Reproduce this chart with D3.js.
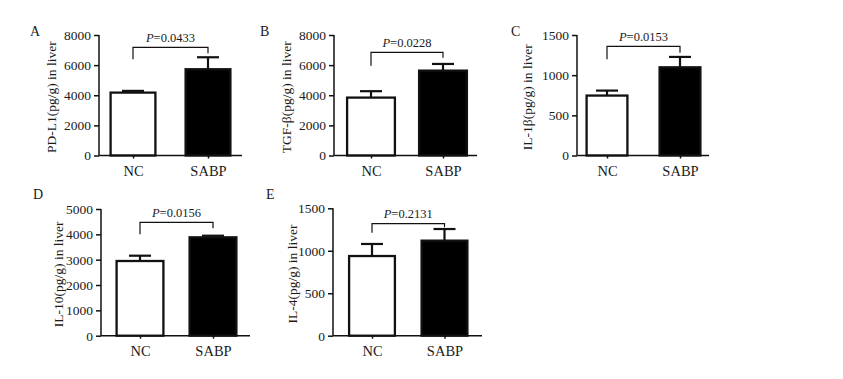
<!DOCTYPE html>
<html><head><meta charset="utf-8">
<script src="https://cdn.jsdelivr.net/npm/d3@7"></script>
<style>
html,body{margin:0;padding:0;background:#fff;}
text{font-family:"Liberation Serif","Times New Roman",serif;fill:#1a1a1a;}
</style></head>
<body>
<svg id="chart" width="843" height="379"></svg>
<script>
// ---- data ----
const panelIds = ["A","B","C","D","E"];
const categories = ["NC","SABP"];
const yTitles = ["PD-L1(pg/g) in liver","TGF-\u03b2(pg/g) in liver","IL-1\u03b2(pg/g) in liver","IL-10(pg/g) in liver","IL-4(pg/g) in liver"];
const yMaxes = [8000,8000,1500,5000,1500];
const tickSteps = [2000,2000,500,1000,500];
const ncMeans = [4175,3844,746,2948,938];
const ncErrs = [115,426,62,209,142];
const sabpMeans = [5727,5634,1098,3883,1119];
const sabpErrs = [795,444,129,63,137];
const pValues = ["0.0433","0.0228","0.0153","0.0156","0.2131"];
const bracketTops = [7183,6851,1359,4475,1319];
const bracketLeftEnds = [6387,5962,1197,4002,1213];
const bracketRightEnds = [6785,6493,1280,4238,1276];

// ---- layout ----
const layouts = [
  {ax:99,  axEnd:242, top:35,    bot:155.5, c:[133,208],   bw:47, titleX:51.5, letterX:30,  letterY:36},
  {ax:334, axEnd:477, top:35,    bot:155.5, c:[371,443],   bw:50, titleX:286,  letterX:260, letterY:36},
  {ax:577, axEnd:709, top:35,    bot:155.5, c:[607,680],   bw:43, titleX:527,  letterX:511, letterY:36},
  {ax:101, axEnd:250, top:209,   bot:335.7, c:[140,213],   bw:49, titleX:58,   letterX:33,  letterY:199},
  {ax:333, axEnd:482, top:208.3, bot:335.7, c:[372,444.5], bw:48, titleX:292,  letterX:266, letterY:199}
];

const svg = d3.select("#chart");
const ink = "#111";

panelIds.forEach((id, i) => {
  const L = layouts[i];
  const g = svg.append("g");
  const y = d3.scaleLinear().domain([0, yMaxes[i]]).range([L.bot, L.top]);
  const x = d3.scalePoint().domain(categories).range(L.c).padding(0);
  const means = [ncMeans[i], sabpMeans[i]];
  const errs = [ncErrs[i], sabpErrs[i]];
  const rows = categories.map((c, k) => ({c, m: means[k], e: errs[k], k}));

  // error bars (upper only)
  g.selectAll("line.err").data(rows).enter().append("line")
    .attr("x1", d => x(d.c)).attr("x2", d => x(d.c))
    .attr("y1", d => y(d.m)).attr("y2", d => y(d.m + d.e))
    .attr("stroke", ink).attr("stroke-width", 2.2);
  g.selectAll("line.cap").data(rows).enter().append("line")
    .attr("x1", d => x(d.c) - 11).attr("x2", d => x(d.c) + 11)
    .attr("y1", d => y(d.m + d.e)).attr("y2", d => y(d.m + d.e))
    .attr("stroke", ink).attr("stroke-width", 2.2);

  // bars
  g.selectAll("rect.bar").data(rows).enter().append("rect")
    .attr("x", d => x(d.c) - L.bw / 2 + 1.1)
    .attr("width", L.bw - 2.2)
    .attr("y", d => y(d.m))
    .attr("height", d => y(0) - y(d.m))
    .attr("fill", d => d.k === 0 ? "#fff" : "#000")
    .attr("stroke", ink).attr("stroke-width", 2.3);

  // y axis
  const ticks = d3.range(0, yMaxes[i] + 1, tickSteps[i]);
  const ya = g.append("g").attr("transform", `translate(${L.ax},0)`)
    .call(d3.axisLeft(y).tickValues(ticks).tickFormat(d3.format("d")).tickSize(5).tickPadding(3));
  ya.select(".domain").attr("d", `M0,${L.top}V${L.bot}`).attr("stroke", ink).attr("stroke-width", 1.5);
  ya.selectAll(".tick line").attr("stroke", ink).attr("stroke-width", 1.5);
  ya.selectAll(".tick text").attr("font-size", 13.5).attr("font-family", "Liberation Serif").attr("fill", "#1a1a1a");

  // x axis
  const xa = g.append("g").attr("transform", `translate(0,${L.bot})`)
    .call(d3.axisBottom(x).tickSize(3).tickPadding(7));
  xa.select(".domain").attr("d", `M${L.ax},0H${L.axEnd}`).attr("stroke", ink).attr("stroke-width", 1.5);
  xa.selectAll(".tick line").attr("stroke", ink).attr("stroke-width", 1.5);
  xa.selectAll(".tick text").attr("font-size", 14.5).attr("font-family", "Liberation Serif").attr("fill", "#1a1a1a");

  // y title
  g.append("text")
    .attr("transform", `translate(${L.titleX},${(L.top + L.bot) / 2 + 2}) rotate(-90)`)
    .attr("text-anchor", "middle").attr("dy", "0.35em")
    .attr("font-size", 13.5).text(yTitles[i]);

  // panel letter
  g.append("text").attr("x", L.letterX).attr("y", L.letterY)
    .attr("font-size", 14).text(id);

  // significance bracket
  const xl = x(categories[0]), xr = x(categories[1]);
  g.append("path")
    .attr("d", `M${xl},${y(bracketLeftEnds[i])}V${y(bracketTops[i])}H${xr}V${y(bracketRightEnds[i])}`)
    .attr("fill", "none").attr("stroke", ink).attr("stroke-width", 1.2);
  const pt = g.append("text").attr("x", (xl + xr) / 2).attr("y", y(bracketTops[i]) - 5.5)
    .attr("text-anchor", "middle").attr("font-size", 12.5);
  pt.append("tspan").attr("font-style", "italic").text("P");
  pt.append("tspan").text("=" + pValues[i]);
});
</script>
</body></html>
